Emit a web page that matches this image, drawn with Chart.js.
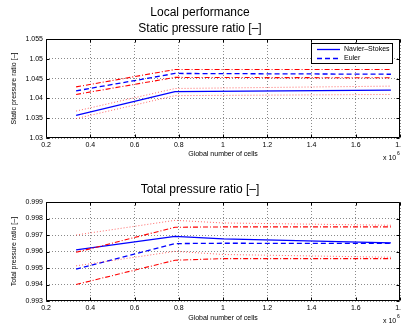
<!DOCTYPE html>
<html>
<head>
<meta charset="utf-8">
<script src="https://cdn.jsdelivr.net/npm/chart.js@4.4.1/dist/chart.umd.min.js"></script>
<style>
    body { margin: 0; background: #fff; }
    canvas { position: absolute; left: 0; }
    #staticChart { top: 0; }
    #totalChart { top: 163px; }
</style>
</head>
<body>
<canvas id="staticChart" width="401" height="163"></canvas>
<canvas id="totalChart" width="401" height="164"></canvas>
<script>
// Mesh sizes (millions of cells)
const cellTicks = [0.2, 0.4, 0.6, 0.8, 1.0, 1.2, 1.4, 1.6, 1.8];
const cellTickLabels = ['0.2', '0.4', '0.6', '0.8', '1', '1.2', '1.4', '1.6', '1.8'];
const staticCells = [0.336, 0.783, 1.759];
const totalCells = [0.336, 0.783, 1.0, 1.759];

// Static pressure ratio
const staticTicks = [1.03, 1.035, 1.04, 1.045, 1.05, 1.055];
const staticTickLabels = ['1.03', '1.035', '1.04', '1.045', '1.05', '1.055'];
const staticNS = [1.0357, 1.0417, 1.0421];
const staticNSUpper = [1.0368, 1.0425, 1.0431];
const staticNSLower = [1.0349, 1.0407, 1.0410];
const staticEuler = [1.0419, 1.0463, 1.0461];
const staticEulerUpper = [1.0429, 1.0473, 1.0473];
const staticEulerLower = [1.0410, 1.0453, 1.0452];

// Total pressure ratio
const totalTicks = [0.993, 0.994, 0.995, 0.996, 0.997, 0.998, 0.999];
const totalTickLabels = ['0.993', '0.994', '0.995', '0.996', '0.997', '0.998', '0.999'];
const totalNS = [0.99610, 0.99692, 0.99676, 0.99652];
const totalNSUpper = [0.99700, 0.99789, 0.99773, 0.99759];
const totalNSLower = [0.99513, 0.99601, 0.99582, 0.99565];
const totalEuler = [0.99493, 0.99648, 0.99650, 0.99649];
const totalEulerUpper = [0.99595, 0.99747, 0.99749, 0.99749];
const totalEulerLower = [0.99400, 0.99547, 0.99557, 0.99557];

const FONT = "'Liberation Sans', Arial, Helvetica, sans-serif";
Chart.defaults.font.family = FONT;
Chart.defaults.color = '#000';

const BLUE = '#0000ff';
const RED = '#ff0000';
const PINK = 'rgba(255, 40, 40, 0.7)';

function series(label, xs, ys, color, dash, width) {
    return {
        label: label,
        data: xs.map((x, i) => ({ x: x, y: ys[i] })),
        borderColor: color,
        borderDash: dash,
        borderWidth: width,
        pointRadius: 0,
        fill: false,
        tension: 0
    };
}

function buildSets(xs, ns, nsUp, nsLo, eu, euUp, euLo) {
    return [
        series('NS upper', xs, nsUp, PINK, [1, 2], 1),
        series('NS lower', xs, nsLo, PINK, [1, 2], 1),
        series('Euler upper', xs, euUp, RED, [5, 2, 1, 2], 1.1),
        series('Euler lower', xs, euLo, RED, [5, 2, 1, 2], 1.1),
        series('Euler', xs, eu, BLUE, [5, 3], 1.3),
        series('Navier–Stokes', xs, ns, BLUE, [], 1.3)
    ];
}

function buildScales(yTicks, yLabels, yMin, yMax, yTitle, xHeight) {
    return {
        x: {
            type: 'linear',
            min: 0.2,
            max: 1.8,
            afterBuildTicks: s => { s.ticks = cellTicks.map(v => ({ value: v })); },
            afterFit: s => { s.height = xHeight; s.paddingLeft = 0; s.paddingRight = 0; },
            ticks: {
                autoSkip: false, maxRotation: 0, padding: 3,
                font: { size: 7 },
                callback: (v, i) => cellTickLabels[i]
            },
            grid: { color: '#8a8a8a', drawTicks: false },
            border: { display: false, dash: [1, 2] },
            title: {
                display: true, text: 'Global number of cells',
                font: { size: 7 }, padding: { top: 0, bottom: 5 }
            }
        },
        y: {
            type: 'linear',
            min: yMin,
            max: yMax,
            afterBuildTicks: s => { s.ticks = yTicks.map(v => ({ value: v })); },
            afterFit: s => { s.width = 46; s.paddingTop = 0; s.paddingBottom = 0; },
            ticks: {
                padding: 3,
                font: { size: 7 },
                callback: (v, i) => yLabels[i]
            },
            grid: { color: '#8a8a8a', drawTicks: false },
            border: { display: false, dash: [1, 2] },
            title: {
                display: true, text: yTitle,
                font: { size: 7 }, padding: { top: 10, bottom: 0 }
            }
        }
    };
}

// axes box, inward tick marks and the x10^6 multiplier
const framePlugin = {
    id: 'frame',
    afterDraw(chart) {
        const { ctx, chartArea: a, scales } = chart;
        const L = a.left + 0.5, R = a.right - 0.5, T = a.top + 0.5, B = a.bottom - 0.5;
        ctx.save();
        ctx.strokeStyle = '#000';
        ctx.lineWidth = 1;
        ctx.beginPath();
        scales.x.ticks.forEach(t => {
            const px = Math.round(scales.x.getPixelForValue(t.value)) + 0.5;
            ctx.moveTo(px, B); ctx.lineTo(px, B - 3);
            ctx.moveTo(px, T); ctx.lineTo(px, T + 3);
        });
        scales.y.ticks.forEach(t => {
            const py = Math.round(scales.y.getPixelForValue(t.value)) + 0.5;
            ctx.moveTo(L, py); ctx.lineTo(L + 3, py);
            ctx.moveTo(R, py); ctx.lineTo(R - 3, py);
        });
        ctx.rect(L, T, R - L, B - T);
        ctx.stroke();

        ctx.fillStyle = '#000';
        ctx.textBaseline = 'middle';
        ctx.textAlign = 'left';
        ctx.font = '7px ' + FONT;
        ctx.fillText('x 10', 383, a.bottom + 20);
        ctx.font = '5px ' + FONT;
        ctx.fillText('6', 397, a.bottom + 16);
        ctx.restore();
    }
};

const legendPlugin = {
    id: 'boxLegend',
    afterDraw(chart) {
        const ctx = chart.ctx;
        const entries = ['Navier–Stokes', 'Euler'];
        ctx.save();
        ctx.fillStyle = '#fff';
        ctx.fillRect(311, 43, 82, 20);
        ctx.strokeStyle = '#000';
        ctx.lineWidth = 1;
        ctx.strokeRect(311.5, 43.5, 81, 20);
        entries.forEach((name, i) => {
            const ds = chart.data.datasets.find(d => d.label === name);
            const y = 49.5 + i * 9;
            ctx.strokeStyle = ds.borderColor;
            ctx.lineWidth = ds.borderWidth;
            ctx.setLineDash(ds.borderDash);
            ctx.beginPath();
            ctx.moveTo(317, y);
            ctx.lineTo(340, y);
            ctx.stroke();
            ctx.setLineDash([]);
            ctx.fillStyle = '#000';
            ctx.font = '7px ' + FONT;
            ctx.textBaseline = 'middle';
            ctx.fillText(name, 344, y);
        });
        ctx.restore();
    }
};

function makeChart(id, datasets, scales, title, titlePad, plugins) {
    return new Chart(document.getElementById(id).getContext('2d'), {
        type: 'line',
        data: { datasets: datasets },
        options: {
            responsive: false,
            animation: false,
            devicePixelRatio: 1,
            layout: { padding: { left: 0, right: 1, top: 0, bottom: 0 }, autoPadding: false },
            plugins: {
                legend: { display: false },
                tooltip: { enabled: false },
                title: {
                    display: true,
                    text: title,
                    color: '#000',
                    font: { size: 12, weight: 'normal', lineHeight: '16px' },
                    padding: titlePad
                }
            },
            scales: scales
        },
        plugins: plugins
    });
}

makeChart('staticChart',
    buildSets(staticCells, staticNS, staticNSUpper, staticNSLower, staticEuler, staticEulerUpper, staticEulerLower),
    buildScales(staticTicks, staticTickLabels, 1.03, 1.055, 'Static pressure ratio [–]', 25),
    ['Local performance', 'Static pressure ratio [–]'],
    { top: 5, bottom: 2 },
    [framePlugin, legendPlugin]);

makeChart('totalChart',
    buildSets(totalCells, totalNS, totalNSUpper, totalNSLower, totalEuler, totalEulerUpper, totalEulerLower),
    buildScales(totalTicks, totalTickLabels, 0.993, 0.999, 'Total pressure ratio [–]', 26),
    'Total pressure ratio [–]',
    { top: 19, bottom: 4 },
    [framePlugin]);
</script>
</body>
</html>
